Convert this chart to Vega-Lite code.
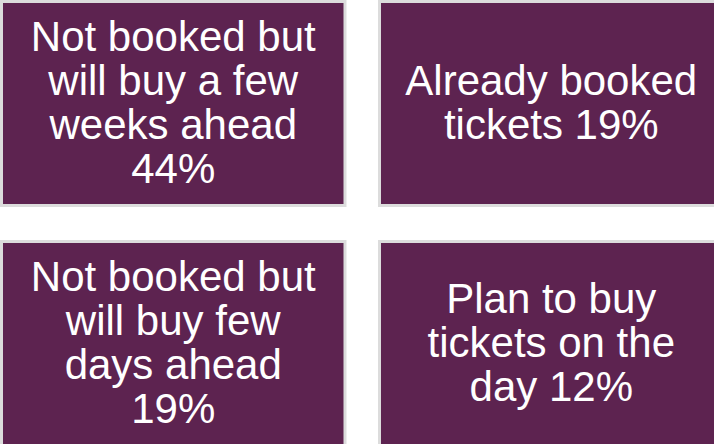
{
  "$schema": "https://vega.github.io/schema/vega-lite/v6.json",
  "width": 714,
  "height": 444,
  "autosize": "none",
  "padding": 0,
  "background": "white",
  "config": {"view": {"stroke": null}},
  "data": {
    "values": [
      {"col": "left", "row": "top", "label": "Not booked but\nwill buy a few\nweeks ahead\n44%", "pct": 44, "lines": 4},
      {"col": "right", "row": "top", "label": "Already booked\ntickets 19%", "pct": 19, "lines": 2},
      {"col": "left", "row": "bottom", "label": "Not booked but\nwill buy few\ndays ahead\n19%", "pct": 19, "lines": 4},
      {"col": "right", "row": "bottom", "label": "Plan to buy\ntickets on the\nday 12%", "pct": 12, "lines": 3}
    ]
  },
  "encoding": {
    "x": {"field": "col", "type": "nominal", "axis": null,
      "scale": {"domain": ["left", "right"], "range": [1.5, 723], "paddingInner": 0.0913, "paddingOuter": 0}},
    "y": {"field": "row", "type": "nominal", "axis": null,
      "scale": {"domain": ["top", "bottom"], "range": [1.5, 445.5], "paddingInner": 0.15, "paddingOuter": 0}}
  },
  "layer": [
    {"mark": {"type": "rect", "fill": "#5d2350", "stroke": "#dcdcdc", "strokeWidth": 3}},
    {"transform": [{"filter": "datum.lines == 4"}],
     "mark": {"type": "text", "color": "white", "font": "Liberation Sans", "fontSize": 42, "lineBreak": "\n", "lineHeight": 44, "align": "center", "baseline": "middle", "dy": -66},
     "encoding": {"text": {"field": "label"}}},
    {"transform": [{"filter": "datum.lines == 3"}],
     "mark": {"type": "text", "color": "white", "font": "Liberation Sans", "fontSize": 42, "lineBreak": "\n", "lineHeight": 44, "align": "center", "baseline": "middle", "dy": -44},
     "encoding": {"text": {"field": "label"}}},
    {"transform": [{"filter": "datum.lines == 2"}],
     "mark": {"type": "text", "color": "white", "font": "Liberation Sans", "fontSize": 42, "lineBreak": "\n", "lineHeight": 44, "align": "center", "baseline": "middle", "dy": -22},
     "encoding": {"text": {"field": "label"}}}
  ]
}
